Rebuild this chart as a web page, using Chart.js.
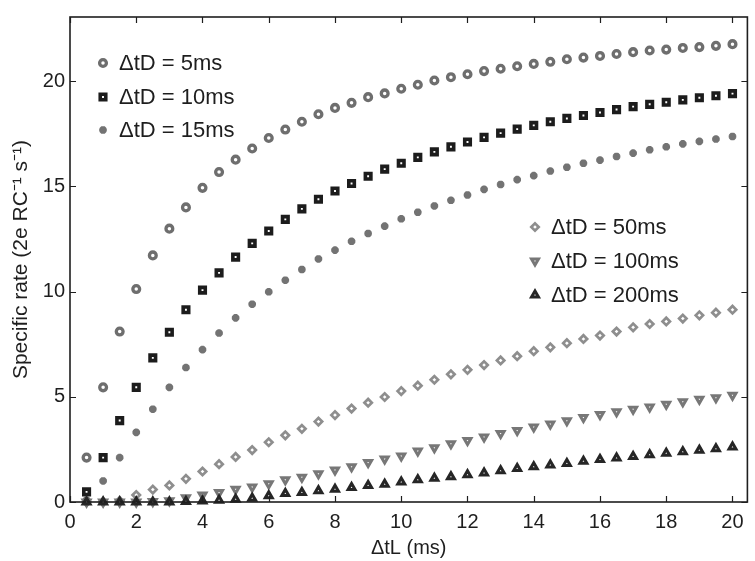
<!DOCTYPE html>
<html>
<head>
<meta charset="utf-8">
<script src="https://cdn.jsdelivr.net/npm/chart.js@4/dist/chart.umd.min.js"></script>
<style>
  html, body { margin: 0; padding: 0; background: #fff; }
  #wrap { width: 755px; height: 561px; }
</style>
</head>
<body>
<div id="wrap"><canvas id="myChart" width="755" height="561"></canvas></div>
<script>
// ΔtL 값 (ms)
const dtL = [0.5, 1, 1.5, 2, 2.5, 3, 3.5, 4, 4.5, 5, 5.5, 6, 6.5, 7, 7.5, 8, 8.5, 9, 9.5, 10,
             10.5, 11, 11.5, 12, 12.5, 13, 13.5, 14, 14.5, 15, 15.5, 16, 16.5, 17, 17.5, 18, 18.5, 19, 19.5, 20];

// 각 ΔtD 별 specific rate
const rate5 = [2.11, 5.45, 8.1, 10.12, 11.72, 12.99, 14.0, 14.93, 15.68, 16.27, 16.8, 17.3, 17.7, 18.07, 18.43, 18.73, 18.97, 19.24, 19.42, 19.64,
               19.83, 20.03, 20.19, 20.33, 20.48, 20.59, 20.71, 20.82, 20.92, 21.04, 21.12, 21.2, 21.29, 21.38, 21.46, 21.5, 21.58, 21.62, 21.68, 21.76];
const rate10 = [0.48, 2.11, 3.87, 5.45, 6.85, 8.07, 9.14, 10.07, 10.89, 11.64, 12.29, 12.88, 13.43, 13.93, 14.39, 14.78, 15.14, 15.48, 15.82, 16.1,
                16.38, 16.64, 16.88, 17.11, 17.33, 17.53, 17.72, 17.9, 18.07, 18.23, 18.37, 18.51, 18.65, 18.79, 18.9, 19.0, 19.11, 19.21, 19.31, 19.41];
const rate15 = [0.1, 1.0, 2.11, 3.31, 4.41, 5.45, 6.39, 7.24, 8.03, 8.75, 9.4, 9.99, 10.54, 11.05, 11.55, 11.97, 12.39, 12.76, 13.11, 13.46,
                13.77, 14.07, 14.34, 14.59, 14.86, 15.09, 15.32, 15.51, 15.73, 15.91, 16.1, 16.25, 16.42, 16.58, 16.74, 16.88, 17.02, 17.14, 17.25, 17.37];
const rate50 = [0, 0.01, 0.05, 0.33, 0.59, 0.79, 1.1, 1.45, 1.8, 2.14, 2.47, 2.84, 3.17, 3.48, 3.82, 4.13, 4.44, 4.72, 4.99, 5.27,
                5.53, 5.81, 6.07, 6.28, 6.51, 6.73, 6.93, 7.17, 7.35, 7.55, 7.75, 7.91, 8.1, 8.3, 8.46, 8.58, 8.72, 8.87, 9.0, 9.14];
const rate100 = [0, 0, 0, 0, 0.02, 0.06, 0.2, 0.33, 0.45, 0.61, 0.71, 0.87, 1.06, 1.18, 1.34, 1.52, 1.68, 1.88, 2.04, 2.19,
                 2.42, 2.58, 2.77, 2.92, 3.09, 3.25, 3.4, 3.56, 3.71, 3.86, 4.01, 4.16, 4.29, 4.41, 4.52, 4.65, 4.76, 4.88, 4.96, 5.07];
const rate200 = [0, 0, 0, 0, 0, 0, 0.02, 0.05, 0.08, 0.13, 0.18, 0.3, 0.4, 0.45, 0.53, 0.61, 0.69, 0.78, 0.84, 0.95,
                 1.06, 1.13, 1.2, 1.29, 1.38, 1.49, 1.59, 1.68, 1.76, 1.83, 1.94, 2.02, 2.09, 2.16, 2.24, 2.32, 2.39, 2.46, 2.53, 2.61];

const seriesLabels = ['ΔtD = 5ms', 'ΔtD = 10ms', 'ΔtD = 15ms', 'ΔtD = 50ms', 'ΔtD = 100ms', 'ΔtD = 200ms'];
const xTicks = [0, 2, 4, 6, 8, 10, 12, 14, 16, 18, 20];
const yTicks = [0, 5, 10, 15, 20];

const FONT = '"Liberation Sans", Arial, Helvetica, sans-serif';
const INK = '#1e1e1e';

function toPoints(ys) {
    return dtL.map((x, i) => ({ x: x, y: ys[i] }));
}

const styles = [
    { pointStyle: 'circle',   radius: 3.4, borderWidth: 3.3, borderColor: '#6e6e6e', backgroundColor: '#ffffff' },
    { pointStyle: 'rect',     radius: 3.9, borderWidth: 3.6, borderColor: '#1c1c1c', backgroundColor: '#ffffff' },
    { pointStyle: 'star',     radius: 3.8, borderWidth: 2.7, borderColor: '#737373', backgroundColor: '#737373' },
    { pointStyle: 'rectRot',  radius: 3.7, borderWidth: 2.7, borderColor: '#8e8e8e', backgroundColor: '#ffffff' },
    { pointStyle: 'triangle', radius: 4.0, borderWidth: 3.0, borderColor: '#777777', backgroundColor: '#ffffff', rotation: 180 },
    { pointStyle: 'triangle', radius: 4.0, borderWidth: 3.0, borderColor: '#262626', backgroundColor: '#ffffff', rotation: 0 }
];
const allRates = [rate5, rate10, rate15, rate50, rate100, rate200];

const datasets = allRates.map((ys, i) => ({
    label: seriesLabels[i],
    data: toPoints(ys),
    showLine: false,
    clip: false,
    order: 6 - i,
    pointStyle: styles[i].pointStyle,
    pointRadius: styles[i].radius,
    pointBorderWidth: styles[i].borderWidth,
    pointBorderColor: styles[i].borderColor,
    pointBackgroundColor: styles[i].backgroundColor,
    pointRotation: styles[i].rotation || 0,
    borderColor: styles[i].borderColor,
    backgroundColor: styles[i].backgroundColor
}));

// 안쪽 눈금 + 테두리 (MATLAB 스타일)
const boxPlugin = {
    id: 'boxPlugin',
    afterDatasetsDraw(chart) {
        const { ctx, chartArea: a, scales } = chart;
        ctx.save();
        ctx.strokeStyle = INK;
        ctx.lineWidth = 1.2;
        const len = 6;
        scales.x.ticks.forEach(t => {
            const px = Math.round(scales.x.getPixelForValue(t.value)) + 0.5;
            ctx.beginPath();
            ctx.moveTo(px, a.bottom); ctx.lineTo(px, a.bottom - len);
            ctx.moveTo(px, a.top); ctx.lineTo(px, a.top + len);
            ctx.stroke();
        });
        scales.y.ticks.forEach(t => {
            const py = Math.round(scales.y.getPixelForValue(t.value)) + 0.5;
            ctx.beginPath();
            ctx.moveTo(a.left, py); ctx.lineTo(a.left + len, py);
            ctx.moveTo(a.right, py); ctx.lineTo(a.right - len, py);
            ctx.stroke();
        });
        ctx.lineWidth = 1.6;
        ctx.strokeRect(a.left, a.top, a.right - a.left, a.bottom - a.top);
        ctx.restore();
    }
};

// 두 개로 나뉜 범례
const legendBlocks = [
    { items: [0, 1, 2], markerX: 103, textX: 119, rows: [63, 97, 130] },
    { items: [3, 4, 5], markerX: 535, textX: 551, rows: [227, 261, 295] }
];
const splitLegend = {
    id: 'splitLegend',
    afterDraw(chart) {
        const ctx = chart.ctx;
        ctx.save();
        ctx.font = '22px ' + FONT;
        ctx.fillStyle = INK;
        ctx.textBaseline = 'middle';
        legendBlocks.forEach(b => {
            b.items.forEach((di, k) => {
                const s = styles[di];
                const y = b.rows[k];
                ctx.save();
                ctx.lineWidth = s.borderWidth;
                ctx.strokeStyle = s.borderColor;
                ctx.fillStyle = s.backgroundColor;
                Chart.helpers.drawPoint(ctx, {
                    pointStyle: s.pointStyle,
                    radius: s.radius,
                    rotation: s.rotation || 0,
                    borderWidth: s.borderWidth
                }, b.markerX, y);
                ctx.restore();
                ctx.fillText(chart.data.datasets[di].label, b.textX, y + 1);
            });
        });
        ctx.restore();
    }
};

const ctx = document.getElementById('myChart').getContext('2d');
const chart = new Chart(ctx, {
    type: 'scatter',
    data: { datasets: datasets },
    options: {
        responsive: false,
        animation: false,
        layout: { padding: { top: 7, right: 3, left: 0, bottom: 0 } },
        plugins: {
            legend: { display: false },
            tooltip: { enabled: false }
        },
        scales: {
            x: {
                type: 'linear',
                min: 0,
                max: 20.45,
                grid: { display: false, drawTicks: false },
                border: { display: false },
                afterBuildTicks: s => { s.ticks = xTicks.map(v => ({ value: v })); },
                afterFit: s => { s.height = 59; },
                ticks: { color: INK, padding: 8, font: { size: 20, family: FONT }, maxRotation: 0 },
                title: { display: true, text: 'ΔtL (ms)', color: INK, padding: { top: 0, bottom: 1 }, font: { size: 20, family: FONT } }
            },
            y: {
                type: 'linear',
                min: 0,
                max: 23.05,
                grid: { display: false, drawTicks: false },
                border: { display: false },
                afterBuildTicks: s => { s.ticks = yTicks.map(v => ({ value: v })); },
                afterFit: s => { s.width = 70; },
                ticks: { color: INK, padding: 5, font: { size: 20, family: FONT } },
                title: { display: true, text: 'Specific rate (2e RC⁻¹ s⁻¹)', color: INK, padding: { top: 9, bottom: 0 }, font: { size: 21, family: FONT } }
            }
        }
    },
    plugins: [boxPlugin, splitLegend]
});
</script>
</body>
</html>
